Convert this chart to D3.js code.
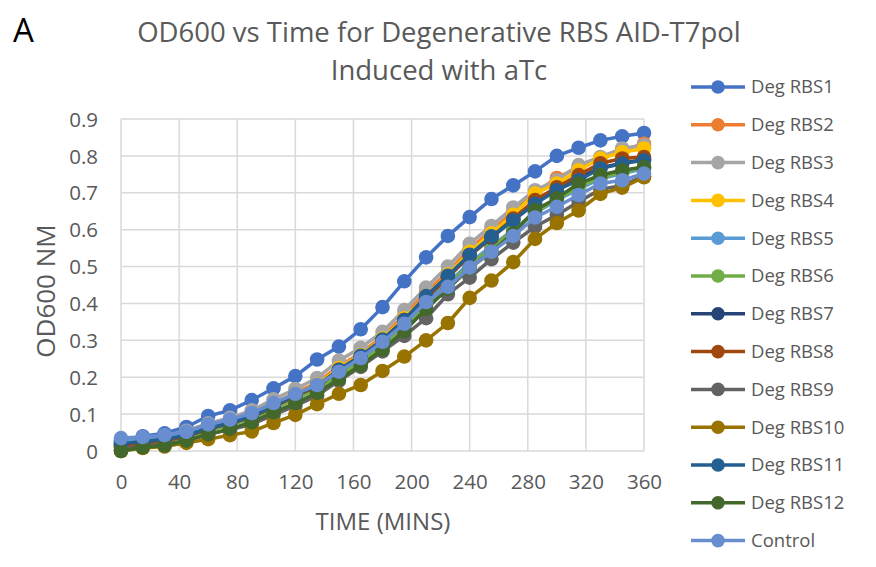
<!DOCTYPE html>
<html>
<head>
<meta charset="utf-8">
<script src="https://cdn.jsdelivr.net/npm/d3@7"></script>
<style>
  body { margin: 0; background: #fff; }
  svg { display: block; font-family: "Open Sans", sans-serif; }
</style>
</head>
<body>
<svg id="chart" width="876" height="567"></svg>
<script>
// sampling times (minutes)
const times = [0,15,30,45,60,75,90,105,120,135,150,165,180,195,210,225,240,255,270,285,300,315,330,345,360];

const seriesNames = ["Deg RBS1","Deg RBS2","Deg RBS3","Deg RBS4","Deg RBS5","Deg RBS6",
  "Deg RBS7","Deg RBS8","Deg RBS9","Deg RBS10","Deg RBS11","Deg RBS12","Control"];

const seriesColors = ["#4472C4","#ED7D31","#A5A5A5","#FFC000","#5B9BD5","#70AD47",
  "#264478","#9E480E","#636363","#997300","#255E91","#43682B","#698ED0"];

// OD600 readings
const rbs1  = [0.03,0.04,0.048,0.065,0.095,0.11,0.138,0.17,0.203,0.248,0.283,0.33,0.39,0.46,0.525,0.583,0.634,0.683,0.72,0.758,0.8,0.822,0.842,0.853,0.862];
const rbs2  = [0.02,0.028,0.035,0.045,0.065,0.08,0.098,0.128,0.158,0.185,0.23,0.265,0.31,0.368,0.43,0.485,0.548,0.598,0.648,0.7,0.74,0.77,0.795,0.815,0.833];
const rbs3  = [0.028,0.034,0.04,0.055,0.075,0.09,0.11,0.14,0.168,0.198,0.245,0.28,0.323,0.382,0.443,0.5,0.562,0.61,0.66,0.707,0.734,0.775,0.797,0.82,0.829];
const rbs4  = [0.015,0.022,0.03,0.042,0.062,0.077,0.095,0.125,0.155,0.18,0.225,0.26,0.305,0.36,0.42,0.478,0.54,0.59,0.64,0.698,0.725,0.761,0.793,0.81,0.82];
const rbs5  = [0.025,0.03,0.036,0.045,0.064,0.078,0.096,0.124,0.15,0.175,0.212,0.248,0.292,0.345,0.405,0.455,0.51,0.555,0.6,0.645,0.68,0.71,0.738,0.752,0.765];
const rbs6  = [0.01,0.018,0.025,0.035,0.055,0.07,0.088,0.115,0.142,0.168,0.205,0.24,0.285,0.335,0.395,0.45,0.505,0.55,0.598,0.648,0.682,0.715,0.742,0.755,0.77];
const rbs7  = [0.015,0.022,0.03,0.04,0.06,0.075,0.093,0.12,0.15,0.175,0.218,0.255,0.3,0.355,0.415,0.472,0.53,0.578,0.628,0.675,0.71,0.74,0.768,0.78,0.79];
const rbs8  = [0.012,0.02,0.028,0.04,0.06,0.075,0.092,0.12,0.15,0.176,0.22,0.255,0.3,0.355,0.415,0.47,0.53,0.58,0.63,0.68,0.715,0.748,0.78,0.793,0.797];
const rbs9  = [0.005,0.012,0.018,0.028,0.045,0.058,0.072,0.098,0.122,0.15,0.19,0.228,0.27,0.312,0.36,0.425,0.47,0.52,0.565,0.608,0.64,0.676,0.709,0.72,0.745];
const rbs10 = [0.0,0.008,0.012,0.022,0.032,0.043,0.053,0.076,0.098,0.127,0.155,0.179,0.217,0.256,0.3,0.347,0.415,0.462,0.512,0.575,0.618,0.652,0.697,0.714,0.742];
const rbs11 = [0.02,0.025,0.032,0.042,0.062,0.076,0.094,0.122,0.152,0.178,0.22,0.258,0.302,0.355,0.42,0.475,0.532,0.582,0.625,0.67,0.707,0.734,0.766,0.779,0.788];
const rbs12 = [0.0,0.01,0.015,0.028,0.045,0.06,0.078,0.105,0.13,0.158,0.195,0.232,0.275,0.325,0.385,0.44,0.495,0.54,0.59,0.653,0.685,0.725,0.748,0.761,0.77];
const control = [0.035,0.038,0.043,0.052,0.072,0.085,0.103,0.13,0.155,0.179,0.215,0.252,0.296,0.345,0.404,0.445,0.497,0.54,0.583,0.633,0.662,0.694,0.725,0.734,0.752];

const xTicks = [0,40,80,120,160,200,240,280,320,360];
const yTicks = [0,0.1,0.2,0.3,0.4,0.5,0.6,0.7,0.8,0.9];

const allValues = [rbs1,rbs2,rbs3,rbs4,rbs5,rbs6,rbs7,rbs8,rbs9,rbs10,rbs11,rbs12,control];
const series = seriesNames.map((name, i) => ({
  name: name,
  color: seriesColors[i],
  points: times.map((t, j) => ({ t: t, v: allValues[i][j] }))
}));

const svg = d3.select("#chart");
const plot = { left: 121, right: 644, top: 119, bottom: 451 };
const textColor = "#595959";
const gridColor = "#D9D9D9";

const x = d3.scaleLinear().domain([0, 360]).range([plot.left, plot.right]);
const y = d3.scaleLinear().domain([0, 0.9]).range([plot.bottom, plot.top]);

// gridlines
const grid = svg.append("g");
grid.selectAll("line.h")
  .data(yTicks)
  .join("line")
  .attr("class", "h")
  .attr("x1", plot.left).attr("x2", plot.right)
  .attr("y1", d => y(d)).attr("y2", d => y(d))
  .attr("stroke", gridColor).attr("stroke-width", 1.5);
grid.selectAll("line.v")
  .data(xTicks)
  .join("line")
  .attr("class", "v")
  .attr("y1", plot.top).attr("y2", plot.bottom)
  .attr("x1", d => x(d)).attr("x2", d => x(d))
  .attr("stroke", gridColor).attr("stroke-width", 1.5);

// axes (labels only, Excel style)
const xAxis = svg.append("g")
  .attr("transform", `translate(0,${plot.bottom + 20})`)
  .call(d3.axisBottom(x).tickValues(xTicks).tickSize(0).tickFormat(d3.format("d")));
xAxis.select(".domain").remove();
xAxis.selectAll("text")
  .attr("fill", textColor)
  .style("font-size", "20.5px")
  .style("font-family", "'Open Sans', sans-serif");

const yAxis = svg.append("g")
  .attr("transform", `translate(${plot.left - 20},0)`)
  .call(d3.axisLeft(y).tickValues(yTicks).tickSize(0).tickFormat(d => d === 0 ? "0" : d3.format(".1f")(d)));
yAxis.select(".domain").remove();
yAxis.selectAll("text")
  .attr("fill", textColor)
  .attr("dy", "0.35em")
  .style("font-size", "20.5px")
  .style("font-family", "'Open Sans', sans-serif");

// series lines and markers; control drawn last so it sits on top
const line = d3.line().x(d => x(d.t)).y(d => y(d.v));

const sg = svg.append("g")
  .selectAll("g")
  .data(series)
  .join("g");

sg.append("path")
  .attr("d", d => line(d.points))
  .attr("fill", "none")
  .attr("stroke", d => d.color)
  .attr("stroke-width", 3.5)
  .attr("stroke-linejoin", "round");

sg.selectAll("circle")
  .data(d => d.points.map(p => ({ t: p.t, v: p.v, color: d.color })))
  .join("circle")
  .attr("cx", d => x(d.t))
  .attr("cy", d => y(d.v))
  .attr("r", 7.3)
  .attr("fill", d => d.color);

// titles
svg.append("text")
  .attr("x", 439).attr("y", 42)
  .attr("text-anchor", "middle")
  .attr("fill", textColor)
  .style("font-size", "27.5px")
  .text("OD600 vs Time for Degenerative RBS AID-T7pol");
svg.append("text")
  .attr("x", 439).attr("y", 80)
  .attr("text-anchor", "middle")
  .attr("fill", textColor)
  .style("font-size", "27.5px")
  .text("Induced with aTc");

svg.append("text")
  .attr("x", 13).attr("y", 42)
  .attr("fill", "#000")
  .style("font-size", "33px")
  .text("A");

svg.append("text")
  .attr("x", 383).attr("y", 530)
  .attr("text-anchor", "middle")
  .attr("fill", textColor)
  .style("font-size", "24px")
  .text("TIME (MINS)");

svg.append("text")
  .attr("transform", "translate(55,291) rotate(-90)")
  .attr("text-anchor", "middle")
  .attr("fill", textColor)
  .style("font-size", "26px")
  .text("OD600 NM");

// legend
const legend = svg.append("g")
  .selectAll("g")
  .data(series)
  .join("g")
  .attr("transform", (d, i) => `translate(691,${87 + i * 37.8})`);

legend.append("line")
  .attr("x1", 0).attr("x2", 54)
  .attr("stroke", d => d.color)
  .attr("stroke-width", 3.5);
legend.append("circle")
  .attr("cx", 27).attr("r", 6.8)
  .attr("fill", d => d.color);
legend.append("text")
  .attr("x", 60).attr("dy", "0.35em")
  .attr("fill", textColor)
  .style("font-size", "18.5px")
  .text(d => d.name);
</script>
</body>
</html>
